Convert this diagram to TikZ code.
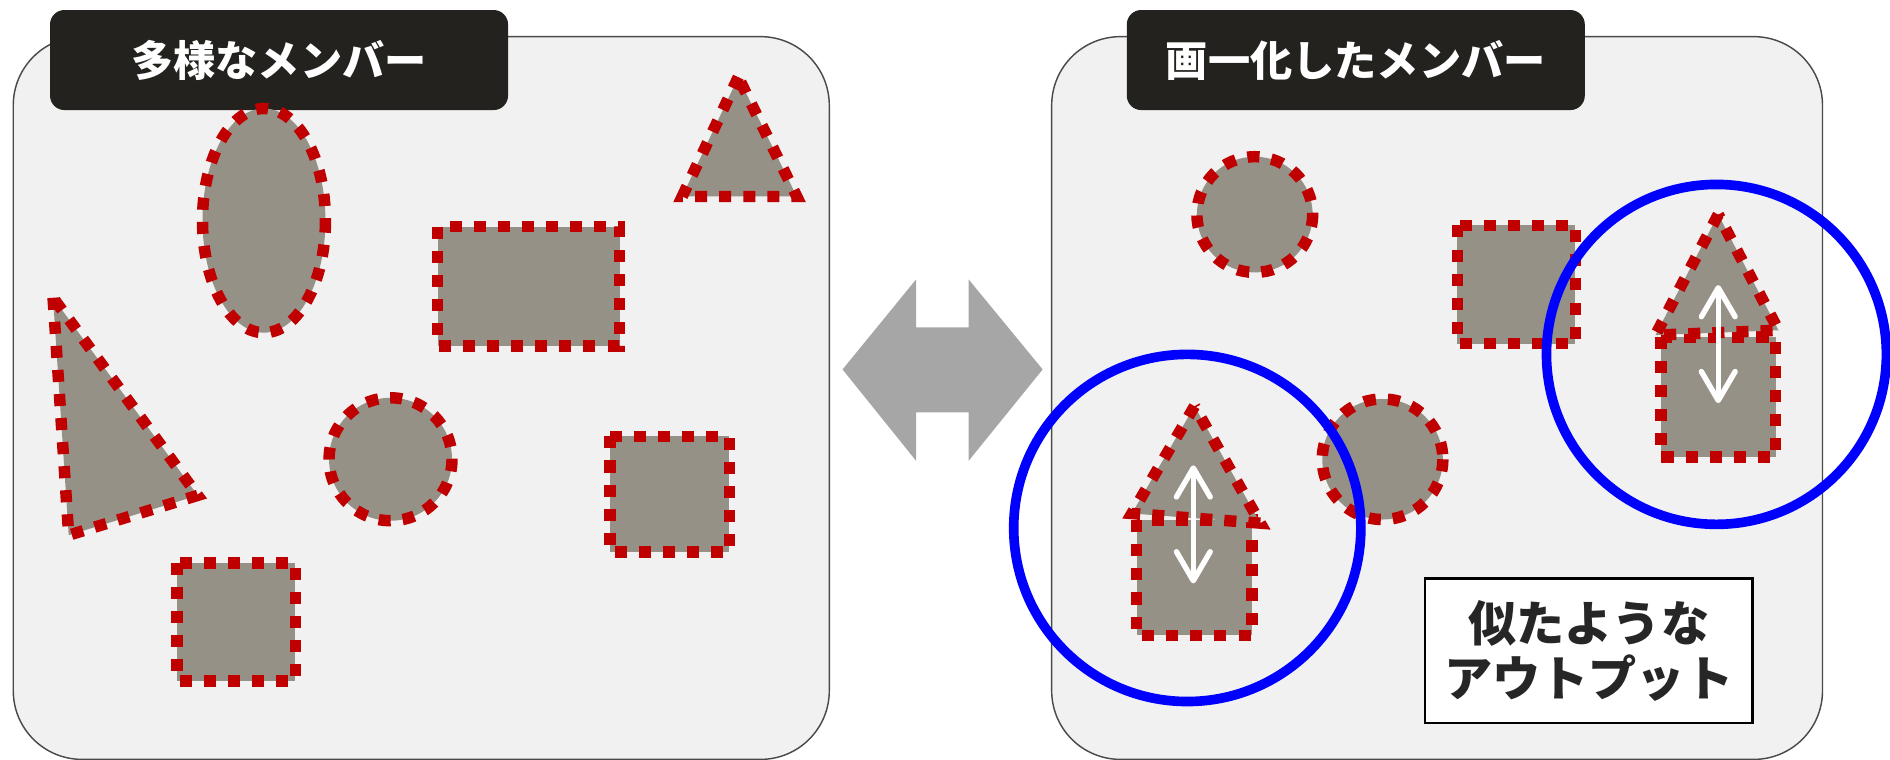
\documentclass[tikz,border=0pt]{standalone}
\usepackage{fontspec}
\newfontfamily\jpfont{Noto Sans CJK JP}
\usetikzlibrary{arrows.meta}
\tikzset{
  panel/.style={fill=panelfill, draw=panelline, line width=1.2pt, rounded corners=57pt},
  titlebox/.style={fill=titlefill, rounded corners=12pt, text=white, inner sep=0pt,
    minimum width=380pt, minimum height=83pt, font=\jpfont\bfseries\fontsize{35}{40}\selectfont},
  member/.style={fill=shapefill, draw=dotred, line width=9.5pt, dash pattern=on 10pt off 10pt},
  ring/.style={draw=ringblue, line width=8pt},
  span/.style={draw=white, line width=4.5pt, line cap=round,
    {Straight Barb[length=24pt,width=28pt,round]}-{Straight Barb[length=24pt,width=28pt,round]}},
}
\begin{document}
\begin{tikzpicture}[x=1pt, y=-1pt]
\definecolor{panelfill}{HTML}{F1F1F1}
\definecolor{panelline}{HTML}{4A4A46}
\definecolor{titlefill}{HTML}{23221E}
\definecolor{shapefill}{HTML}{969187}
\definecolor{dotred}{HTML}{C00000}
\definecolor{arrowgray}{HTML}{A6A6A6}
\definecolor{ringblue}{HTML}{0000FF}
\definecolor{notetext}{HTML}{262626}
\useasboundingbox (0,0) rectangle (1568,630);
\clip (0,0) rectangle (1568,630);
% panels
\draw[panel] (11,30.4) rectangle (688,630);
\draw[panel] (872.5,30.4) rectangle (1512,630);
\node[titlebox] (title-diverse) at (231.5,49.8) {多様なメンバー};
\node[titlebox] (title-uniform) at (1124.8,49.8) {画一化したメンバー};
% double arrow between panels
\fill[arrowgray] (699,306.5) -- (760,231.8) -- (760,271.6) -- (803.6,271.6) -- (803.6,231.8) -- (865,306.5)
  -- (803.6,382.3) -- (803.6,342.2) -- (760,342.2) -- (760,382.3) -- cycle;
% left: diverse members
\filldraw[member] (219,183) ellipse [x radius=51, y radius=93];
\filldraw[member] (612.5,64) -- (566,163) -- (661,163) -- cycle;
\filldraw[member] (363,188) rectangle (514,287);
\filldraw[member] (44,247) -- (57,444) -- (164,411) -- cycle;
\filldraw[member] (324,381) circle [radius=51];
\filldraw[member] (506,362) rectangle (605,458);
\filldraw[member] (147,467) rectangle (245,565);
% right: uniform members
\filldraw[member] (1041,178) circle [radius=48];
\filldraw[member] (1209,187) rectangle (1307,285);
\filldraw[member] (1147,381) circle [radius=50];
\filldraw[member] (943,431.5) rectangle (1038.7,527);
\filldraw[member] (991,337) -- (939,426) -- (1045.6,434) -- cycle;
\draw[span] (990,386) -- (990,484);
\filldraw[member] (1378,279.4) rectangle (1473,379);
\filldraw[member] (1425.5,178) -- (1373.4,278) -- (1475.5,274) -- cycle;
\draw[span] (1425.5,236.5) -- (1425.5,334.5);
% highlight rings
\draw[ring] (985,438) circle [radius=144];
\draw[ring] (1424,294) circle [radius=141];
\node[draw=black, fill=white, line width=2pt, minimum width=272pt, minimum height=120pt, align=center,
  text=notetext, font=\jpfont\bfseries\fontsize{40}{46}\selectfont] (note) at (1318,540) {似たような\\アウトプット};
\end{tikzpicture}
\end{document}
